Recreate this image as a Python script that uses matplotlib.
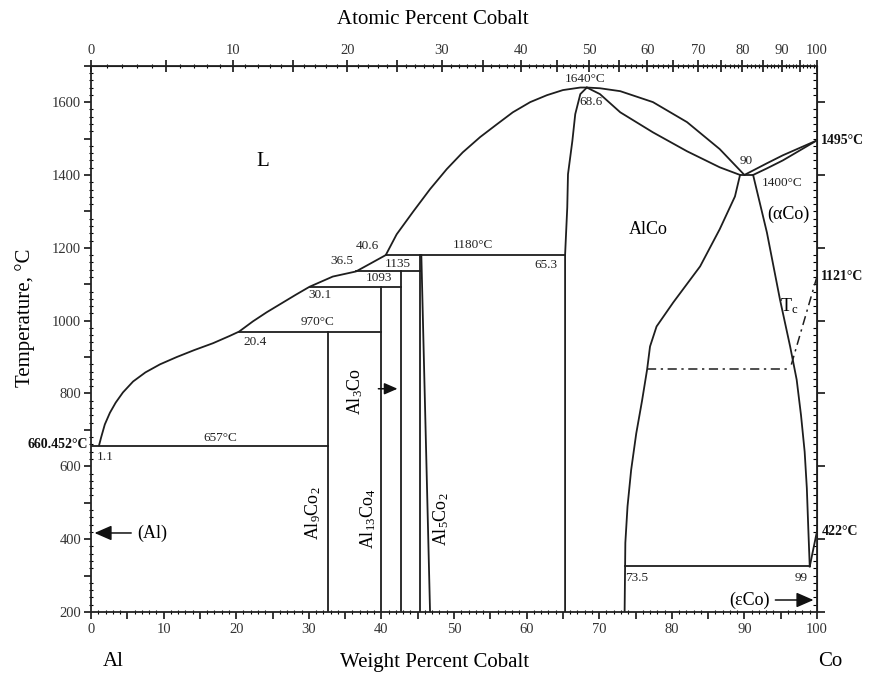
import numpy as np
import matplotlib
matplotlib.use("Agg")
import matplotlib.pyplot as plt
from matplotlib.ticker import MultipleLocator, FixedLocator, FuncFormatter

plt.rcParams["font.family"] = ["Liberation Serif", "DejaVu Serif"]
plt.rcParams["mathtext.fontset"] = "custom"
plt.rcParams["mathtext.rm"] = "Liberation Serif"
plt.rcParams["mathtext.it"] = "Liberation Serif:italic"

# Al-Co phase diagram, composition in wt% Co, temperature in degC
M_CO = 58.933
M_AL = 26.982

liq_low_x = [1.1, 1.4, 1.9, 2.6, 3.4, 4.4, 5.8, 7.5, 9.5, 11.8, 14.2, 16.8, 19.1, 20.4,
             22.3, 24.2, 26.2, 28.2, 30.1, 33.3, 36.5, 38.6, 40.6]
liq_low_t = [657, 680, 715, 747, 775, 803, 833, 858, 880, 900, 919, 938, 958, 970,
             998, 1023, 1047, 1071, 1093, 1121, 1135, 1158, 1180]

liq_up_x = [40.6, 42.1, 44.4, 46.7, 49.0, 51.2, 53.6, 55.9, 58.1, 60.5, 62.8, 65.0, 67.4, 68.3]
liq_up_t = [1180, 1237, 1300, 1361, 1416, 1462, 1504, 1539, 1572, 1600, 1619, 1633, 1640, 1640]

alco_left_x = [65.3, 65.3, 65.6, 65.7, 66.3, 66.7, 67.4, 68.3]
alco_left_t = [200, 1180, 1311, 1402, 1493, 1567, 1622, 1640]

liq_right_x = [68.3, 70.1, 72.9, 77.4, 82.1, 86.6, 90.0]
liq_right_t = [1640, 1638, 1630, 1600, 1545, 1471, 1400]

sol_right_x = [68.3, 70.1, 72.9, 77.4, 82.1, 86.6, 89.4]
sol_right_t = [1640, 1622, 1572, 1517, 1465, 1421, 1400]

liq_co_x = [90.0, 93.1, 95.3, 100.0]
liq_co_t = [1400, 1432, 1454, 1495]
sol_co_x = [91.2, 93.1, 95.3, 100.0]
sol_co_t = [1400, 1418, 1440, 1495]

alco_right_x = [89.4, 88.7, 86.6, 83.9, 80.2, 77.9, 77.0, 76.6, 75.9, 75.1, 74.4, 73.9, 73.6, 73.5]
alco_right_t = [1400, 1341, 1251, 1149, 1050, 984, 929, 866, 780, 690, 590, 490, 390, 200]

aco_left_x = [91.2, 93.1, 94.9, 96.3, 97.2, 97.8, 98.3, 98.6, 98.8, 99.0]
aco_left_t = [1400, 1242, 1058, 929, 838, 740, 640, 540, 430, 325]

tc_x = [100.0, 96.3]
tc_t = [1121, 868]
tc_flat_x = [76.6, 96.3]
tc_flat_t = [868, 868]

# invariant lines: (x_start, x_end, T)
isotherms = [(0.0, 32.7, 657), (20.4, 40.0, 970), (30.1, 42.7, 1093),
             (36.5, 45.3, 1135), (40.6, 65.3, 1180), (89.4, 91.2, 1400),
             (73.5, 99.0, 325)]

# compound lines: (x_bottom, x_top, T_top)
compounds = [(32.7, 32.7, 970), (40.0, 40.0, 1093), (42.7, 42.7, 1135),
             (45.3, 45.3, 1180), (46.7, 45.5, 1180)]

value_labels = [
    ("1640°C", 68.0, 1663), ("68.6", 68.9, 1600), ("90", 90.2, 1437),
    ("1400°C", 95.2, 1378), ("40.6", 38.0, 1204), ("36.5", 34.6, 1163),
    ("1135", 42.2, 1155), ("1093", 39.6, 1118), ("30.1", 31.6, 1070),
    ("970°C", 31.2, 995), ("20.4", 22.6, 942), ("1180°C", 52.6, 1209),
    ("65.3", 62.6, 1152), ("657°C", 17.8, 678), ("1.1", 1.9, 625),
    ("73.5", 75.2, 293), ("99", 97.8, 293),
]

edge_labels = [("1495°C", 1495), ("1121°C", 1121), ("422°C", 422)]


def wt_to_at(w):
    w = np.clip(np.asarray(w, dtype=float), 0, 100)
    a = w / M_CO
    b = (100 - w) / M_AL
    with np.errstate(divide="ignore", invalid="ignore"):
        return np.where(a + b > 0, 100 * a / (a + b), 0)


def at_to_wt(a):
    a = np.clip(np.asarray(a, dtype=float), 0, 100)
    u = a * M_CO
    v = (100 - a) * M_AL
    with np.errstate(divide="ignore", invalid="ignore"):
        return np.where(u + v > 0, 100 * u / (u + v), 0)


fig = plt.figure(figsize=(8.71, 6.75), dpi=100)
ax = fig.add_axes([0.1045, 0.0933, 0.8335, 0.8094])
ax.set_xlim(0, 100)
ax.set_ylim(200, 1700)

lc = "#1e1e1e"
lw = 1.3
for xs, ts in [(liq_low_x, liq_low_t), (liq_up_x, liq_up_t), (alco_left_x, alco_left_t),
               (liq_right_x, liq_right_t), (sol_right_x, sol_right_t),
               (liq_co_x, liq_co_t), (sol_co_x, sol_co_t),
               (alco_right_x, alco_right_t), (aco_left_x, aco_left_t)]:
    ax.plot(xs, ts, color=lc, lw=lw, solid_capstyle="round", solid_joinstyle="round")

for x0, x1, t in isotherms:
    ax.plot([x0, x1], [t, t], color=lc, lw=lw)
for xb, xt, tt in compounds:
    ax.plot([xb, xt], [200, tt], color=lc, lw=lw)

# (eCo) transformation to pure Co
ax.plot([99.0, 100.0], [325, 422], color=lc, lw=lw)

# magnetic transition
ax.plot(tc_x, tc_t, color=lc, lw=1.1, ls=(0, (6, 3, 1.5, 3)))
ax.plot(tc_flat_x, tc_flat_t, color=lc, lw=1.1, ls=(0, (6, 3, 1.5, 3)))

for s, x, t in value_labels:
    ax.text(x, t, s, fontsize=9.5, ha="center", va="center", color="#222")

for s, t in edge_labels:
    ax.text(100.6, t, s, fontsize=10, fontweight="bold", ha="left", va="center",
            color="#111", clip_on=False)
ax.text(-0.4, 660.452, "660.452°C", fontsize=10, fontweight="bold", ha="right",
        va="center", color="#111", clip_on=False)

ax.text(23.6, 1438, "L", fontsize=15, ha="center", va="center")
ax.text(76.7, 1251, "AlCo", fontsize=13, ha="center", va="center")
ax.text(96.0, 1293, "(αCo)", fontsize=13, ha="center", va="center")
ax.text(96.2, 1040, r"T$_\mathregular{c}$", fontsize=13, ha="center", va="center")

ax.text(30.6, 470, r"Al$_\mathregular{9}$Co$_\mathregular{2}$", fontsize=13,
        rotation=90, ha="center", va="center")
ax.text(38.2, 455, r"Al$_\mathregular{13}$Co$_\mathregular{4}$", fontsize=13,
        rotation=90, ha="center", va="center")
ax.text(48.2, 455, r"Al$_\mathregular{5}$Co$_\mathregular{2}$", fontsize=13,
        rotation=90, ha="center", va="center")
ax.text(36.4, 805, r"Al$_\mathregular{3}$Co", fontsize=13, rotation=90,
        ha="center", va="center")

arrow = dict(arrowstyle="-|>,head_length=0.8,head_width=0.35", color="#111", lw=1.1)
ax.annotate("", xy=(42.6, 813), xytext=(39.2, 813), arrowprops=arrow)
ax.annotate("(Al)", xy=(0.1, 417), xytext=(6.3, 417), fontsize=13,
            ha="left", va="center", arrowprops=arrow)
ax.annotate("(εCo)", xy=(99.9, 233), xytext=(93.5, 233), fontsize=13,
            ha="right", va="center", arrowprops=arrow)

# ticks
for sp in ax.spines.values():
    sp.set_linewidth(1.3)
    sp.set_color("#222")

ax.xaxis.set_major_locator(MultipleLocator(5))
ax.xaxis.set_minor_locator(MultipleLocator(1))
ax.xaxis.set_major_formatter(FuncFormatter(lambda v, p: f"{v:.0f}" if v % 10 == 0 else ""))
ax.yaxis.set_major_locator(MultipleLocator(100))
ax.yaxis.set_minor_locator(MultipleLocator(20))
ax.yaxis.set_major_formatter(FuncFormatter(lambda v, p: f"{v:.0f}" if v % 200 == 0 and v < 1700 else ""))
ax.tick_params(axis="x", which="major", direction="out", length=5, width=1.1,
               labelsize=10.5, labelcolor="#333", pad=3)
ax.tick_params(axis="x", which="minor", direction="inout", length=3, width=0.8)
ax.tick_params(axis="y", which="major", direction="out", length=5, width=1.1,
               labelsize=10.5, labelcolor="#333", pad=2)
ax.tick_params(axis="y", which="minor", direction="inout", length=3, width=0.8)

ax_r = ax.secondary_yaxis("right")
ax_r.yaxis.set_major_locator(MultipleLocator(200))
ax_r.yaxis.set_minor_locator(MultipleLocator(20))
ax_r.tick_params(axis="y", which="major", direction="out", length=6, width=1.1, labelright=False)
ax_r.tick_params(axis="y", which="minor", direction="in", length=3, width=0.8)

ax_t = ax.secondary_xaxis("top", functions=(wt_to_at, at_to_wt))
ax_t.xaxis.set_major_locator(FixedLocator(np.arange(0, 101, 5)))
ax_t.xaxis.set_minor_locator(FixedLocator(np.arange(0, 101, 1)))
ax_t.xaxis.set_major_formatter(FuncFormatter(lambda v, p: f"{v:.0f}" if round(v) % 10 == 0 else ""))
ax_t.tick_params(axis="x", which="major", direction="inout", length=8, width=1.1,
                 labelsize=10.5, labelcolor="#333", pad=2)
ax_t.tick_params(axis="x", which="minor", direction="inout", length=3, width=0.8)

fig.text(433 / 871, 1 - 19 / 675, "Atomic Percent Cobalt", fontsize=15,
         ha="center", va="center")
fig.text(435 / 871, 1 - 662 / 675, "Weight Percent Cobalt", fontsize=15,
         ha="center", va="center")
fig.text(25 / 871, 1 - 318 / 675, "Temperature, °C", fontsize=15, rotation=90,
         ha="center", va="center")
fig.text(113 / 871, 1 - 662 / 675, "Al", fontsize=15, ha="center", va="center")
fig.text(830 / 871, 1 - 662 / 675, "Co", fontsize=15, ha="center", va="center")

fig.savefig("out.png", dpi=100)
